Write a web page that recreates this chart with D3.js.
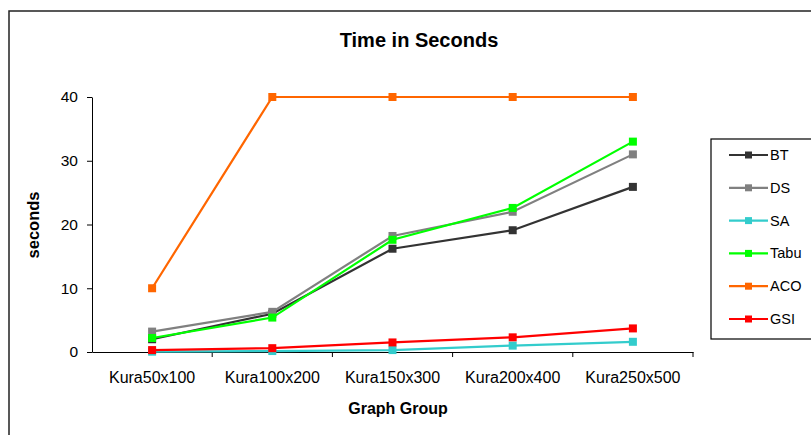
<!DOCTYPE html>
<html><head><meta charset="utf-8">
<script src="https://cdn.jsdelivr.net/npm/d3@7"></script>
<style>body{margin:0;background:#fff}svg{display:block;font-family:"Liberation Sans",Arial,sans-serif}</style>
</head><body>
<svg id="chart" width="811" height="435"></svg>
<script>
const categories = ["Kura50x100","Kura100x200","Kura150x300","Kura200x400","Kura250x500"];
const seriesNames = ["BT","DS","SA","Tabu","ACO","GSI"];
const BT   = [2.0, 6.0, 16.2, 19.1, 25.9];
const DS   = [3.2, 6.3, 18.2, 22.0, 31.0];
const SA   = [0.05, 0.15, 0.3, 1.0, 1.6];
const Tabu = [2.2, 5.4, 17.6, 22.6, 33.0];
const ACO  = [10, 40, 40, 40, 40];
const GSI  = [0.3, 0.6, 1.5, 2.3, 3.7];
const yTicks = [0, 10, 20, 30, 40];
const colors = {BT:"#333333", DS:"#808080", SA:"#33CCCC", Tabu:"#00FF00", ACO:"#FF6600", GSI:"#FF0000"};
const seriesValues = {BT, DS, SA, Tabu, ACO, GSI};

const svg = d3.select("#chart");
// outer frame
svg.append("rect").attr("x",9).attr("y",11).attr("width",900).attr("height",500)
  .attr("fill","none").attr("stroke","#222").attr("stroke-width",1.5);

const x = d3.scaleBand().domain(categories).range([92, 693]).padding(0);
const y = d3.scaleLinear().domain([0, 40]).range([352, 97]);
const cx = c => x(c) + x.bandwidth()/2;

// title
svg.append("text").attr("x",419).attr("y",47).attr("text-anchor","middle")
  .attr("font-size",20).attr("font-weight","bold").text("Time in Seconds");

// y axis
const ya = svg.append("g").attr("transform","translate(92,0)")
  .call(d3.axisLeft(y).tickValues(yTicks).tickSize(5).tickPadding(9).tickSizeOuter(0));
ya.select(".domain").attr("stroke","#000");
ya.selectAll("text").attr("font-size",15.5).attr("fill","#000").attr("font-family","Liberation Sans, Arial");

// x axis
const xa = svg.append("g").attr("transform","translate(0,352)")
  .call(d3.axisBottom(x).tickSize(0).tickPadding(0).tickSizeOuter(0));
xa.select(".domain").attr("stroke","#000");
xa.selectAll(".tick line").remove();
xa.selectAll("text").attr("font-size",16).attr("fill","#000").attr("dy",0).attr("y",31)
  .attr("font-family","Liberation Sans, Arial");
// boundary ticks between categories
categories.forEach(c => {
  svg.append("line").attr("x1",x(c)+x.bandwidth()).attr("x2",x(c)+x.bandwidth())
    .attr("y1",352).attr("y2",357).attr("stroke","#000");
});

// axis titles
svg.append("text").attr("x",398).attr("y",414).attr("text-anchor","middle")
  .attr("font-size",16).attr("font-weight","bold").text("Graph Group");
svg.append("text").attr("transform","translate(39,225) rotate(-90)").attr("text-anchor","middle")
  .attr("font-size",16.5).attr("font-weight","bold").text("seconds");

// series
const line = d3.line().x((d,i)=>cx(categories[i])).y(d=>y(d));
seriesNames.forEach(name => {
  const vals = seriesValues[name];
  const g = svg.append("g");
  g.append("path").datum(vals).attr("d",line).attr("fill","none")
    .attr("stroke",colors[name]).attr("stroke-width",2.2);
  g.selectAll("rect").data(vals).join("rect")
    .attr("x",(d,i)=>cx(categories[i])-4).attr("y",d=>y(d)-4)
    .attr("width",8).attr("height",8).attr("fill",colors[name]);
});

// legend
svg.append("rect").attr("x",711).attr("y",139).attr("width",200).attr("height",200)
  .attr("fill","#fff").attr("stroke","#000").attr("stroke-width",1.2);
seriesNames.forEach((name,i) => {
  const ly = 155 + i*32.8;
  svg.append("line").attr("x1",729).attr("x2",768).attr("y1",ly).attr("y2",ly)
    .attr("stroke",colors[name]).attr("stroke-width",2.2);
  svg.append("rect").attr("x",745).attr("y",ly-3.5).attr("width",7).attr("height",7).attr("fill",colors[name]);
  svg.append("text").attr("x",770).attr("y",ly+5).attr("font-size",14.5).text(name);
});
</script>
</body></html>
